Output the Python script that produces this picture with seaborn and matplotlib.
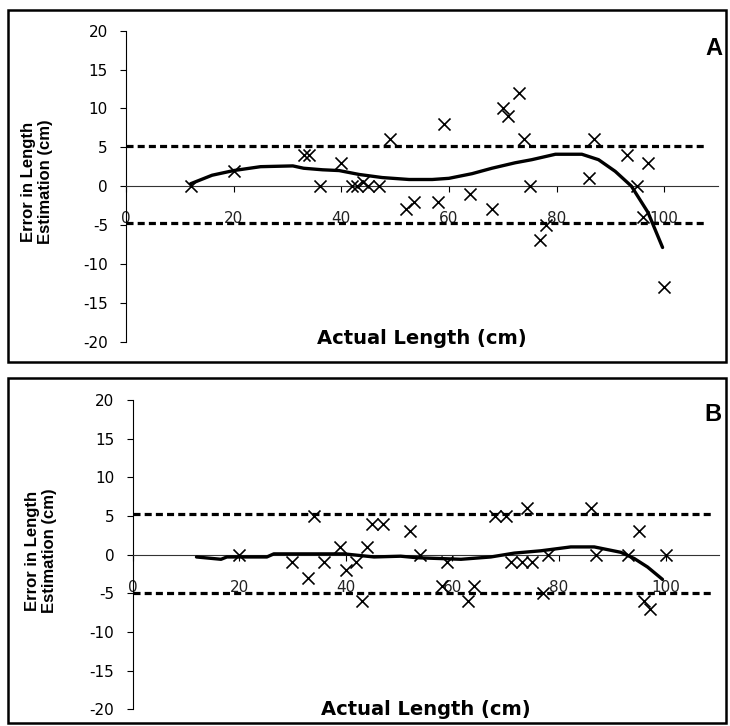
import matplotlib
matplotlib.use("Agg")
import matplotlib.pyplot as plt
import seaborn as sns
import numpy as np
import pandas as pd
from matplotlib.patches import Rectangle

sns.set_style("white")
plt.rcParams['font.family'] = ['DejaVu Sans']
plt.rcParams['axes.unicode_minus'] = False
plt.rcParams['text.color'] = 'black'
plt.rcParams['xtick.color'] = 'black'
plt.rcParams['ytick.color'] = 'black'
plt.rcParams['axes.labelcolor'] = 'black'

# ---------------- data ----------------
# Panel A scatter
a_x = [12, 20, 33, 34, 36, 40, 42, 43, 44, 45, 47, 49, 52, 53.5, 58, 59, 64, 68,
       70, 71, 73, 74, 75, 77, 78, 86, 87, 93, 95, 96, 97, 100]
a_y = [0, 2, 4, 4, 0, 3, 0, 0, 0.5, 0, 0, 6, -3, -2, -2, 8, -1, -3,
       10, 9, 12, 6, 0, -7, -5, 1, 6, 4, 0, -4, 3, -13]
# Panel A trend curve
a_cx = [12, 16, 20, 25, 31, 33, 36.5, 39.6, 43.3, 47.6, 52.6, 56.9, 60, 64.3,
        68, 72.3, 75.4, 79.8, 84.7, 87.8, 90.9, 93.9, 97, 99.7]
a_cy = [0.3, 1.4, 2.0, 2.5, 2.6, 2.3, 2.1, 2.0, 1.5, 1.1, 0.85, 0.85, 1.0, 1.6,
        2.3, 3.0, 3.4, 4.1, 4.1, 3.4, 1.9, 0.0, -3.4, -7.9]
a_limits = [5.1, -4.8]

# Panel B scatter
b_x = [20, 30, 33, 34, 36, 39, 40, 42, 43, 44, 45, 47, 52, 54, 58, 59, 63, 64,
       68, 70, 71, 73, 74, 75, 77, 78, 86, 87, 93, 95, 96, 97, 100]
b_y = [0, -1, -3, 5, -1, 1, -2, -1, -6, 1, 4, 4, 3, 0, -4, -1, -6, -4,
       5, 5, -1, -1, 6, -1, -5, 0, 6, 0, 0, 3, -6, -7, 0]
# Panel B trend curve
b_cx = [12, 16.6, 17.7, 25.2, 26.5, 39.7, 45.3, 50.3, 53.4, 61.6, 67.2, 71.6,
        76.6, 82.2, 86.6, 91.6, 94.1, 96.6, 99.4]
b_cy = [-0.3, -0.6, -0.3, -0.3, 0.1, 0.1, -0.3, -0.2, -0.4, -0.6, -0.3, 0.2,
        0.5, 1.0, 1.0, 0.3, -0.5, -1.6, -3.2]
b_limits = [5.2, -5.0]

x_ticks = [0, 20, 40, 60, 80, 100]
y_ticks = [-20, -15, -10, -5, 0, 5, 10, 15, 20]
x_label = "Actual Length (cm)"
y_label = "Error in Length\nEstimation (cm)"

W, H = 730, 726
fig = plt.figure(figsize=(W / 100, H / 100), dpi=100)


def px_rect(l, t, r, b):
    return [l / W, 1 - b / H, (r - l) / W, (b - t) / H]


panels = [
    dict(rect=px_rect(126, 30.7, 718, 341.5), sx=a_x, sy=a_y, cx=a_cx, cy=a_cy,
         lim=a_limits, dash_end=107.5, letter="A", letter_pos=(722, 55),
         xlab_pos=(422, 344), ylab_pos=(37, 182), frame=(8, 10, 726, 362)),
    dict(rect=px_rect(132.5, 400, 719, 709.3), sx=b_x, sy=b_y, cx=b_cx, cy=b_cy,
         lim=b_limits, dash_end=109, letter="B", letter_pos=(722, 421),
         xlab_pos=(426, 715), ylab_pos=(41, 551), frame=(8, 378, 726, 723)),
]

for p in panels:
    ax = fig.add_axes(p["rect"])
    ax.set_facecolor("none")
    # limit dashed lines
    for yv in p["lim"]:
        ax.plot([0, p["dash_end"]], [yv, yv], color="black", lw=2.3,
                dashes=(2.2, 1.3), solid_capstyle="butt", zorder=2)
    # trend curve
    dfc = pd.DataFrame({"x": p["cx"], "y": p["cy"]})
    sns.lineplot(data=dfc, x="x", y="y", ax=ax, color="black", lw=2.4,
                 sort=False, zorder=3, estimator=None)
    # scatter
    dfs = pd.DataFrame({"x": p["sx"], "y": p["sy"]})
    sns.scatterplot(data=dfs, x="x", y="y", ax=ax, marker="x", color="black",
                    s=75, linewidth=1.2, zorder=4)
    ax.set_xlim(0, 110)
    ax.set_ylim(-20, 20)
    ax.set_xlabel("")
    ax.set_ylabel("")
    ax.spines["top"].set_visible(False)
    ax.spines["right"].set_visible(False)
    ax.spines["bottom"].set_position(("data", 0))
    ax.spines["bottom"].set_linewidth(0.8)
    ax.spines["bottom"].set_color("#333333")
    ax.spines["left"].set_linewidth(0.8)
    ax.spines["left"].set_color("black")
    ax.set_xticks(x_ticks)
    ax.set_yticks(y_ticks)
    ax.tick_params(axis="x", direction="out", length=4, width=0.8, pad=14,
                   labelsize=11, colors="black", bottom=True)
    ax.tick_params(axis="y", direction="out", length=4, width=0.8, pad=9,
                   labelsize=11, colors="black", left=True)
    for lab in ax.get_xticklabels():
        lab.set_color("#222222")
    ax.grid(False)

    fig.text(p["xlab_pos"][0] / W, 1 - p["xlab_pos"][1] / H, x_label,
             ha="center", va="baseline", fontsize=14, fontweight="bold",
             color="black")
    fig.text(p["ylab_pos"][0] / W, 1 - p["ylab_pos"][1] / H, y_label,
             ha="center", va="center", rotation=90, fontsize=12,
             fontweight="bold", multialignment="center", linespacing=1.15,
             family=["Liberation Sans", "DejaVu Sans"], color="black")
    fig.text(p["letter_pos"][0] / W, 1 - p["letter_pos"][1] / H, p["letter"],
             ha="right", va="baseline", fontsize=17, fontweight="bold",
             family=["Liberation Sans", "DejaVu Sans"], color="black")
    l, t, r, b = p["frame"]
    fig.patches.append(Rectangle((l / W, 1 - b / H), (r - l) / W, (b - t) / H,
                                 transform=fig.transFigure, fill=False,
                                 edgecolor="black", lw=1.8, zorder=10))

fig.savefig("out.png", dpi=100)
